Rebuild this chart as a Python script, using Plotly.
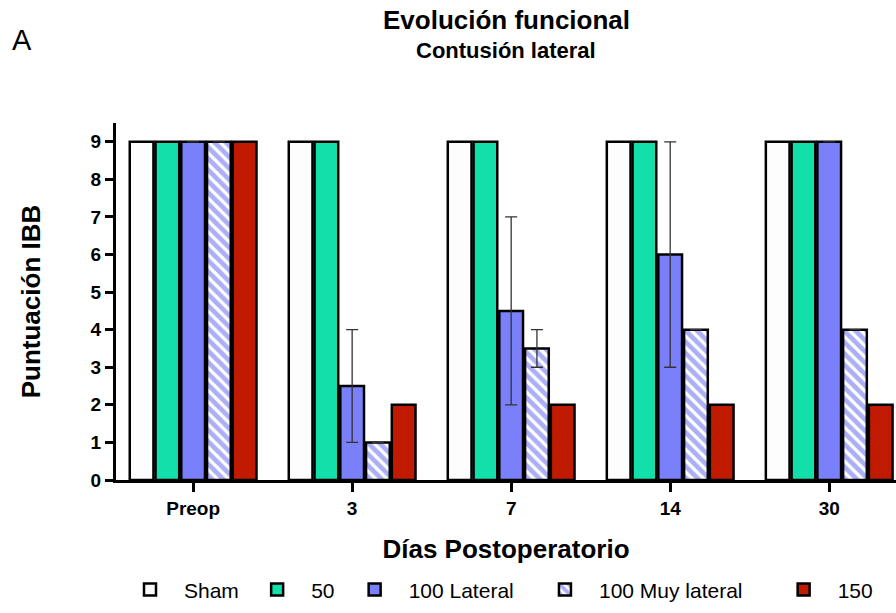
import plotly.graph_objects as go

# Days after surgery (category axis)
dias = ["Preop", "3", "7", "14", "30"]

# Mean BBB score per group
sham = [9, 9, 9, 9, 9]
g50 = [9, 9, 9, 9, 9]
lateral100 = [9, 2.5, 4.5, 6, 9]
muy_lateral100 = [9, 1, 3.5, 4, 4]
g150 = [9, 2, 2, 2, 2]

# Range bars (upper / lower limits) where shown
lateral100_hi = [None, 4, 7, 9, None]
lateral100_lo = [None, 1, 2, 3, None]
muy_lateral100_hi = [None, None, 4, None, None]
muy_lateral100_lo = [None, None, 3, None, None]

FONT = "Liberation Sans, Arial, sans-serif"
OUTLINE = dict(color="black", width=2.5)


def err(vals, hi, lo):
    plus = [(h - v) if h is not None else 0 for v, h in zip(vals, hi)]
    minus = [(v - l) if l is not None else 0 for v, l in zip(vals, lo)]
    return dict(type="data", symmetric=False, array=plus, arrayminus=minus,
                color="#333333", thickness=1.3, width=6)


x = list(range(len(dias)))
fig = go.Figure()
fig.add_bar(name="Sham", x=x, y=sham, legend="legend",
            marker=dict(color="#fdfdfd", line=OUTLINE))
fig.add_bar(name="50", x=x, y=g50, legend="legend2",
            marker=dict(color="#12dfa9", line=OUTLINE))
fig.add_bar(name="100 Lateral", x=x, y=lateral100, legend="legend3",
            marker=dict(color="#7a80fa", line=OUTLINE),
            error_y=err(lateral100, lateral100_hi, lateral100_lo))
fig.add_bar(name="100 Muy lateral", x=x, y=muy_lateral100, legend="legend4",
            marker=dict(color="white", line=OUTLINE,
                        pattern=dict(shape="\\", fgcolor="#5a60ec", bgcolor="white",
                                     size=8, solidity=0.6, fillmode="overlay")),
            error_y=err(muy_lateral100, muy_lateral100_hi, muy_lateral100_lo))
fig.add_bar(name="150", x=x, y=g150, legend="legend5",
            marker=dict(color="#c01a00", line=OUTLINE))

# One single-entry legend per group so each swatch sits in its own column
legend_x = [0.0, 0.163, 0.288, 0.532, 0.838]
legend_style = dict(orientation="h", xanchor="left", y=-0.308, yanchor="middle",
                    font=dict(size=21, family=FONT), itemwidth=58,
                    bgcolor="rgba(0,0,0,0)")
legends = {}
for i, lx in enumerate(legend_x):
    key = "legend" if i == 0 else f"legend{i + 1}"
    legends[key] = dict(x=lx, **legend_style)

fig.update_layout(
    width=896, height=613,
    margin=dict(l=116, r=0, t=123, b=133),
    paper_bgcolor="white", plot_bgcolor="white",
    barmode="group", bargap=0.19, bargroupgap=0.08,
    font=dict(family=FONT, color="black"),
    showlegend=True,
    **legends,
)

fig.update_xaxes(
    range=[-0.485, 4.42], tickmode="array", tickvals=x, ticktext=dias,
    showline=True, linecolor="black", linewidth=3,
    ticks="outside", ticklen=9, tickwidth=3, tickcolor="black",
    showgrid=False, zeroline=False,
    tickfont=dict(size=19, family=FONT, weight="bold"),
    title=dict(text="<b>Días Postoperatorio</b>", standoff=23,
               font=dict(size=26, family=FONT)),
)
fig.update_yaxes(
    range=[0, 9.5], tickmode="array", tickvals=list(range(10)),
    showline=True, linecolor="black", linewidth=3,
    ticks="outside", ticklen=8, tickwidth=3, tickcolor="black",
    showgrid=False, zeroline=False,
    tickfont=dict(size=19, family=FONT, weight="bold"),
    title=dict(text="<b>Puntuación IBB</b>", standoff=43,
               font=dict(size=26, family=FONT)),
)

fig.add_annotation(text="<b>Evolución funcional</b>", xref="paper", yref="paper",
                   x=0.5, y=1.0, yanchor="middle", yshift=103, showarrow=False,
                   font=dict(size=26, family=FONT))
fig.add_annotation(text="<b>Contusión lateral</b>", xref="paper", yref="paper",
                   x=0.5, y=1.0, yanchor="middle", yshift=73, showarrow=False,
                   font=dict(size=22, family=FONT))
fig.add_annotation(text="A", xref="paper", yref="paper",
                   x=0, y=1.0, xanchor="center", yanchor="middle",
                   xshift=-94, yshift=83, showarrow=False,
                   font=dict(size=29, family=FONT))

fig.write_html("out.html")
